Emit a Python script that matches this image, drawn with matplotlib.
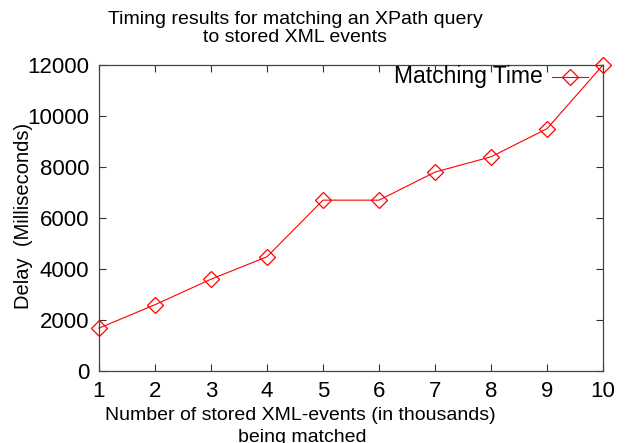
import numpy as np
import matplotlib
matplotlib.use('Agg')
import matplotlib.pyplot as plt

plt.rcParams['font.family'] = ['Liberation Sans', 'DejaVu Sans']

# data
events = [1, 2, 3, 4, 5, 6, 7, 8, 9, 10]
delay_ms = [1680, 2600, 3600, 4480, 6700, 6700, 7800, 8400, 9500, 12000]

x_ticks = [1, 2, 3, 4, 5, 6, 7, 8, 9, 10]
y_ticks = [0, 2000, 4000, 6000, 8000, 10000, 12000]

fig = plt.figure(figsize=(6.29, 4.43), dpi=100)
ax = fig.add_axes([99/629, 1-371/443, 504/629, 306/443])

ax.plot(events, delay_ms, color='red', lw=0.8, marker='D', markersize=8,
        markerfacecolor='none', markeredgecolor='red', markeredgewidth=0.9,
        clip_on=False)

ax.set_xlim(1, 10)
ax.set_ylim(0, 12000)
ax.set_xticks(x_ticks)
ax.set_yticks(y_ticks)
ax.tick_params(direction='in', length=5, width=0.8, top=True, right=True,
               labelsize=16, pad=7, color='#333333')
for s in ax.spines.values():
    s.set_linewidth(0.9)
    s.set_color('#444444')

# legend drawn by hand, gnuplot style
fig.text(543/629, 1-77/443, 'Matching Time', ha='right', va='center', fontsize=16.5)
fig.lines.append(plt.Line2D([552/629, 588/629], [1-77/443, 1-77/443], color='red',
                            lw=0.8, transform=fig.transFigure))
fig.lines.append(plt.Line2D([570/629], [1-77/443], color='red', marker='D', markersize=8,
                            markerfacecolor='none', markeredgewidth=0.9,
                            transform=fig.transFigure))

fig.text(295/629, 1-20/443, 'Timing results for matching an XPath query',
         ha='center', va='center', fontsize=14)
fig.text(295/629, 1-37.5/443, 'to stored XML events',
         ha='center', va='center', fontsize=14)

fig.text(300/629, 1-416/443, 'Number of stored XML-events (in thousands)',
         ha='center', va='center', fontsize=14)
fig.text(302/629, 1-437/443, 'being matched',
         ha='center', va='center', fontsize=14)

fig.text(24/629, 1-216/443, 'Delay  (Milliseconds)', rotation=90,
         ha='center', va='center', fontsize=14.5)

fig.savefig('out.png', dpi=100)
